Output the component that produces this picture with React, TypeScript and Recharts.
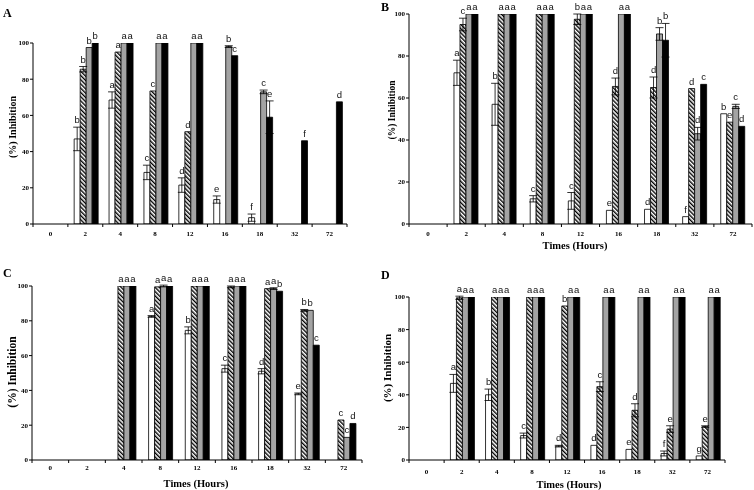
import { BarChart, Bar, XAxis, YAxis, ErrorBar, LabelList } from "recharts";

const times = ["0", "2", "4", "8", "12", "16", "18", "32", "72"];
const yTicks = [0, 20, 40, 60, 80, 100];

// A
const aWhite = [0, 47, 68.5, 28.5, 21.5, 13.5, 3.5, 0, 0];
const aWhiteErr = [0, 6.5, 4.5, 4, 4, 2, 2, 0, 0];
const aWhiteLbl = ["", "b", "a", "c", "d", "e", "f", "", ""];
const aHatch = [0, 85.5, 95, 73.5, 51, 0, 0, 0, 0];
const aHatchErr = [0, 1.5, 0, 0, 0, 0, 0, 0, 0];
const aHatchLbl = ["", "b", "a", "c", "d", "", "", "", ""];
const aGray = [0, 97.5, 100, 100, 100, 98, 73, 0, 0];
const aGrayErr = [0, 0, 0, 0, 0, 0.5, 1, 0, 0];
const aGrayLbl = ["", "b", "a", "a", "a", "b", "c", "", ""];
const aBlack = [0, 100, 100, 100, 100, 93, 59, 46, 67.5];
const aBlackErr = [0, 0, 0, 0, 0, 0, 9, 0, 0];
const aBlackLbl = ["", "b", "a", "a", "a", "c", "e", "f", "d"];

// B
const bWhite = [0, 72, 57, 12, 11, 6.5, 7, 3.5, 52.5];
const bWhiteErr = [0, 6, 10, 1.5, 4, 0, 0, 0, 0];
const bWhiteLbl = ["", "a", "b", "c", "c", "e", "d", "f", "b"];
const bHatch = [0, 95, 100, 100, 97.5, 65.5, 65, 64.5, 48.5];
const bHatchErr = [0, 3, 0, 0, 2.5, 4, 5, 0, 0];
const bHatchLbl = ["", "c", "a", "a", "b", "d", "d", "d", "e"];
const bGray = [0, 100, 100, 100, 100, 100, 90.5, 43, 56];
const bGrayErr = [0, 0, 0, 0, 0, 0, 3, 3, 1];
const bGrayLbl = ["", "a", "a", "a", "a", "a", "b", "d", "c"];
const bBlack = [0, 100, 100, 100, 100, 100, 87.5, 66.5, 46.5];
const bBlackErr = [0, 0, 0, 0, 0, 0, 8, 0, 0];
const bBlackLbl = ["", "a", "a", "a", "a", "a", "b", "c", "d"];

// C
const cWhite = [0, 0, 0, 82.5, 74.5, 52.5, 51, 38, 0];
const cWhiteErr = [0, 0, 0, 0.5, 2, 2, 1.5, 0.5, 0];
const cWhiteLbl = ["", "", "", "a", "b", "c", "d", "e", ""];
const cHatch = [0, 0, 100, 99.5, 100, 99.5, 98.5, 86, 23];
const cHatchErr = [0, 0, 0, 0, 0, 0.5, 0, 0.5, 0];
const cHatchLbl = ["", "", "a", "a", "a", "a", "a", "b", "c"];
const cGray = [0, 0, 100, 100, 100, 100, 98.5, 86, 13];
const cGrayErr = [0, 0, 0, 0.5, 0, 0, 0.5, 0, 0];
const cGrayLbl = ["", "", "a", "a", "a", "a", "a", "b", "c"];
const cBlack = [0, 0, 100, 100, 100, 100, 97, 66, 21];
const cBlackErr = [0, 0, 0, 0, 0, 0, 0, 0, 0];
const cBlackLbl = ["", "", "a", "a", "a", "a", "b", "c", "d"];

// D
const dWhite = [0, 47, 40, 15, 8.5, 9, 6.5, 4, 2.5];
const dWhiteErr = [0, 5.5, 3.5, 1.5, 0.5, 0, 0, 1.5, 0];
const dWhiteLbl = ["", "a", "b", "c", "d", "d", "e", "f", "g"];
const dHatch = [0, 99.5, 100, 100, 94.5, 45, 30.5, 19, 20.5];
const dHatchErr = [0, 1, 0, 0, 0, 3, 4, 2, 0.5];
const dHatchLbl = ["", "a", "a", "a", "b", "c", "d", "e", "e"];
const dGray = [0, 100, 100, 100, 100, 100, 100, 100, 100];
const dGrayErr = [0, 0, 0, 0, 0, 0, 0, 0, 0];
const dGrayLbl = ["", "a", "a", "a", "a", "a", "a", "a", "a"];
const dBlack = [0, 100, 100, 100, 100, 100, 100, 100, 100];
const dBlackErr = [0, 0, 0, 0, 0, 0, 0, 0, 0];
const dBlackLbl = ["", "a", "a", "a", "a", "a", "a", "a", "a"];

const serif = "'Liberation Serif', 'Times New Roman', serif";
const sans = "'Liberation Sans', Arial, sans-serif";

type Geo = { x: number; y: number; w: number; h: number; l: number; t: number; r: number; b: number; dy: number };

// label value comes in as "letter|error" so the letter can sit above the error bar
const letterLabel = (k: number) => (p: any) => {
  const vb = p.viewBox || p;
  const x = vb.x ?? p.x;
  const y = vb.y ?? p.y;
  const width = vb.width ?? p.width;
  const [txt, err] = String(p.value ?? "").split("|");
  if (!txt) return null;
  const e = Number(err) || 0;
  return (
    <text x={x + width / 2} y={y - e * k - 4} textAnchor="middle" fontSize={9.5} fontFamily={sans} fill="#111">
      {txt}
    </text>
  );
};

function Panel(props: { id: string; geo: Geo; s: number[][]; e: number[][]; lb: string[][] }) {
  const { id, geo, s, e, lb } = props;
  const data = times.map((t, i) => ({
    t,
    w: s[0][i], wErr: e[0][i], wLbl: `${lb[0][i]}|${e[0][i]}`,
    h: s[1][i], hErr: e[1][i], hLbl: `${lb[1][i]}|${e[1][i]}`,
    g: s[2][i], gErr: e[2][i], gLbl: `${lb[2][i]}|${e[2][i]}`,
    k: s[3][i], kErr: e[3][i], kLbl: `${lb[3][i]}|${e[3][i]}`,
  }));
  const xh = 16;
  const k = (geo.b - geo.t) / 100;
  const bw = (geo.r - geo.l) / times.length;
  const base = geo.b - geo.y;
  const xTick = (p: any) => (
    <g>
      <line x1={p.x - bw / 2} x2={p.x - bw / 2} y1={base} y2={base + 3} stroke="#000" />
      {p.index === times.length - 1 && <line x1={p.x + bw / 2} x2={p.x + bw / 2} y1={base} y2={base + 3} stroke="#000" />}
      <text x={p.x} y={base + geo.dy} textAnchor="middle" fontSize={7} fontWeight="bold" fontFamily={serif} fill="#000">
        {p.payload.value}
      </text>
    </g>
  );
  const keys = ["w", "h", "g", "k"];
  const fills = ["#fff", `url(#hatch-${id})`, "#a3a3a3", "#000"];
  return (
    <div style={{ position: "absolute", left: geo.x, top: geo.y }}>
      <BarChart
        width={geo.w}
        height={geo.h}
        data={data}
        margin={{ top: geo.t - geo.y, right: geo.x + geo.w - geo.r, left: 0, bottom: geo.y + geo.h - geo.b - xh }}
        barCategoryGap="18%"
        barGap={0}
      >
        <defs>
          <pattern id={`hatch-${id}`} patternUnits="userSpaceOnUse" width={3} height={3} patternTransform="rotate(-45)">
            <rect width={3} height={3} fill="#fff" />
            <rect width={1.4} height={3} fill="#000" />
          </pattern>
        </defs>
        <XAxis dataKey="t" height={xh} interval={0} tickLine={false} axisLine={{ stroke: "#000" }} tick={xTick} />
        <YAxis
          type="number"
          domain={[0, 100]}
          allowDataOverflow
          ticks={yTicks}
          interval={0}
          width={geo.l - geo.x}
          tickSize={3}
          tickMargin={1}
          tickLine={{ stroke: "#000" }}
          axisLine={{ stroke: "#000" }}
          tick={{ fontSize: 7, fontWeight: "bold", fill: "#000", fontFamily: serif }}
        />
        {keys.map((key, j) => (
          <Bar key={key} dataKey={key} fill={fills[j]} stroke="#000" strokeWidth={0.8} isAnimationActive={false}>
            <ErrorBar dataKey={`${key}Err`} width={4} stroke="#000" strokeWidth={0.8} />
            <LabelList dataKey={`${key}Lbl`} content={letterLabel(k)} />
          </Bar>
        ))}
      </BarChart>
    </div>
  );
}

const geoA: Geo = { x: 0, y: 0, w: 372, h: 252, l: 33, t: 43, r: 347, b: 224, dy: 12 };
const geoB: Geo = { x: 376, y: 0, w: 378, h: 252, l: 409, t: 14, r: 752, b: 224, dy: 12 };
const geoC: Geo = { x: 0, y: 252, w: 372, h: 238, l: 32, t: 286, r: 362, b: 460, dy: 10 };
const geoD: Geo = { x: 376, y: 252, w: 378, h: 238, l: 409, t: 297, r: 725, b: 460, dy: 14 };

export default function App() {
  const yTitle = (x: number, y: number, size: number) => (
    <text transform={`translate(${x},${y}) rotate(-90)`} textAnchor="middle" dominantBaseline="central" fontSize={size} fontWeight="bold" fontFamily={serif}>
      (%) Inhibition
    </text>
  );
  const xTitle = (x: number, y: number) => (
    <text x={x} y={y} textAnchor="middle" fontSize={10.5} fontWeight="bold" fontFamily={serif}>
      Times (Hours)
    </text>
  );
  const tag = (x: number, y: number, s: string) => (
    <text x={x} y={y} fontSize={12} fontWeight="bold" fontFamily={serif}>
      {s}
    </text>
  );
  return (
    <div style={{ position: "absolute", left: 0, top: 0, width: 754, height: 490, background: "#fff", filter: "grayscale(1)" }}>
      <Panel id="a" geo={geoA} s={[aWhite, aHatch, aGray, aBlack]} e={[aWhiteErr, aHatchErr, aGrayErr, aBlackErr]} lb={[aWhiteLbl, aHatchLbl, aGrayLbl, aBlackLbl]} />
      <Panel id="b" geo={geoB} s={[bWhite, bHatch, bGray, bBlack]} e={[bWhiteErr, bHatchErr, bGrayErr, bBlackErr]} lb={[bWhiteLbl, bHatchLbl, bGrayLbl, bBlackLbl]} />
      <Panel id="c" geo={geoC} s={[cWhite, cHatch, cGray, cBlack]} e={[cWhiteErr, cHatchErr, cGrayErr, cBlackErr]} lb={[cWhiteLbl, cHatchLbl, cGrayLbl, cBlackLbl]} />
      <Panel id="d" geo={geoD} s={[dWhite, dHatch, dGray, dBlack]} e={[dWhiteErr, dHatchErr, dGrayErr, dBlackErr]} lb={[dWhiteLbl, dHatchLbl, dGrayLbl, dBlackLbl]} />
      <svg width={754} height={490} style={{ position: "absolute", left: 0, top: 0, pointerEvents: "none" }}>
        {tag(3, 17, "A")}
        {tag(381, 11, "B")}
        {tag(3, 277, "C")}
        {tag(381, 279, "D")}
        {yTitle(12, 127, 10)}
        {yTitle(392, 110, 9.5)}
        {yTitle(12, 372, 11.5)}
        {yTitle(387, 368, 11)}
        {xTitle(575, 249)}
        {xTitle(196, 487)}
        {xTitle(569, 488)}
      </svg>
    </div>
  );
}
